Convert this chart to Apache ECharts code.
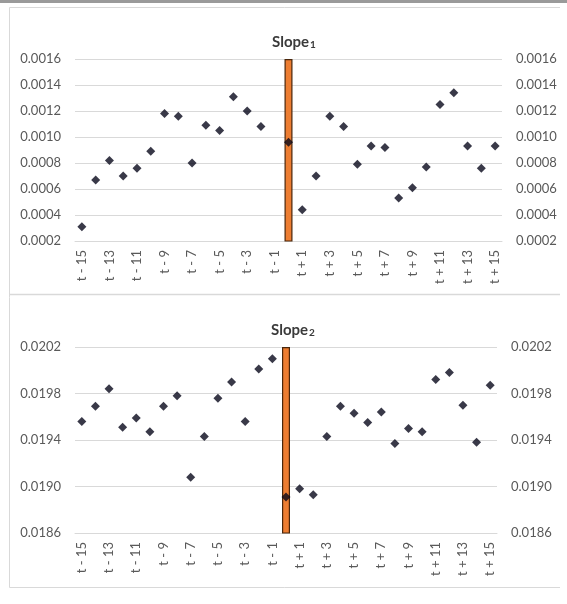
<!DOCTYPE html>
<html>
<head>
<meta charset="utf-8">
<script src="https://cdn.jsdelivr.net/npm/echarts@6/dist/echarts.min.js"></script>
<style>
  html, body { margin: 0; padding: 0; background: #ffffff; }
  #chart { width: 567px; height: 604px; }
</style>
</head>
<body>
<div id="chart"></div>
<script>
// ---- data ----
const categories = [
  't - 15','t - 14','t - 13','t - 12','t - 11','t - 10','t - 9','t - 8','t - 7','t - 6','t - 5','t - 4','t - 3','t - 2','t - 1',
  't',
  't + 1','t + 2','t + 3','t + 4','t + 5','t + 6','t + 7','t + 8','t + 9','t + 10','t + 11','t + 12','t + 13','t + 14','t + 15'
];
const slope1 = [
  0.00031, 0.00067, 0.00082, 0.00070, 0.00076, 0.00089, 0.00118, 0.00116, 0.00080, 0.00109, 0.00105, 0.00131, 0.00120, 0.00108, null,
  0.00096,
  0.00044, 0.00070, 0.00116, 0.00108, 0.00079, 0.00093, 0.00092, 0.00053, 0.00061, 0.00077, 0.00125, 0.00134, 0.00093, 0.00076, 0.00093
];
const slope2 = [
  0.01956, 0.01969, 0.01984, 0.01951, 0.01959, 0.01947, 0.01969, 0.01978, 0.01908, 0.01943, 0.01976, 0.01990, 0.01956, 0.02001, 0.02010,
  0.01891,
  0.01898, 0.01893, 0.01943, 0.01969, 0.01963, 0.01955, 0.01964, 0.01937, 0.01950, 0.01947, 0.01992, 0.01998, 0.01970, 0.01938, 0.01987
];
const eventCategory = 't';
const axis1 = { min: 0.0002, max: 0.0016, interval: 0.0002 };
const axis2 = { min: 0.0186, max: 0.0202, interval: 0.0004 };
const titles = ['Slope', 'Slope'];
const subscripts = ['1', '2'];

// ---- chart ----
const FONT = 'Lato';
const LABEL = '#595959';
const GRIDC = '#d9d9d9';
const eventBar1 = categories.map(c => c === eventCategory ? axis1.max : null);
const eventBar2 = categories.map(c => c === eventCategory ? axis2.max : null);

function xAxis(gi) {
  return {
    type: 'category', gridIndex: gi, data: categories, boundaryGap: true,
    axisTick: { show: false },
    axisLine: { lineStyle: { color: GRIDC, width: 1 } },
    axisLabel: { interval: 1, rotate: 90, margin: 9, color: LABEL, fontFamily: FONT, fontSize: 13 }
  };
}
function yAxis(gi, ax, pos) {
  return {
    type: 'value', gridIndex: gi, position: pos, min: ax.min, max: ax.max, interval: ax.interval,
    axisLine: { show: false }, axisTick: { show: false },
    splitLine: { show: pos === 'left', lineStyle: { color: GRIDC, width: 1 } },
    axisLabel: { margin: 14, color: LABEL, fontFamily: FONT, fontSize: 13, formatter: v => v.toFixed(4) }
  };
}
const barStyle = { color: '#ED7D31', borderColor: '#4a260b', borderWidth: 1.2 };
const markStyle = { color: '#08081a' };

function titleText(i) { return '{a|' + titles[i] + '}{s|' + subscripts[i] + '}'; }
const richT = {
  a: { fontFamily: FONT, fontWeight: 'bold', fontSize: 15, color: '#3a3a3a', lineHeight: 20, verticalAlign: 'bottom' },
  s: { fontFamily: FONT, fontWeight: 'bold', fontSize: 10, color: '#3a3a3a', lineHeight: 14, verticalAlign: 'bottom', padding: [6, 0, 0, 1] }
};

const chart = echarts.init(document.getElementById('chart'), null, { renderer: 'canvas' });
chart.setOption({
  animation: false,
  backgroundColor: '#ffffff',
  title: [
    { text: titleText(0), left: 289, top: 25, textAlign: 'center', textStyle: { rich: richT } },
    { text: titleText(1), left: 288, top: 313, textAlign: 'center', textStyle: { rich: richT } }
  ],
  grid: [
    { left: 75, top: 59, width: 427, height: 182 },
    { left: 75, top: 347, width: 422, height: 186 }
  ],
  xAxis: [xAxis(0), xAxis(1)],
  yAxis: [yAxis(0, axis1, 'left'), yAxis(0, axis1, 'right'), yAxis(1, axis2, 'left'), yAxis(1, axis2, 'right')],
  series: [
    { type: 'bar', xAxisIndex: 0, yAxisIndex: 0, data: eventBar1, barWidth: 8, itemStyle: barStyle, silent: true },
    { type: 'scatter', xAxisIndex: 0, yAxisIndex: 0, data: slope1, symbol: 'diamond', symbolSize: 9, itemStyle: markStyle, z: 5 },
    { type: 'bar', xAxisIndex: 1, yAxisIndex: 2, data: eventBar2, barWidth: 8, itemStyle: barStyle, silent: true },
    { type: 'scatter', xAxisIndex: 1, yAxisIndex: 2, data: slope2, symbol: 'diamond', symbolSize: 9, itemStyle: markStyle, z: 5 }
  ],
  graphic: [
    { type: 'rect', shape: { x: 558, y: 0, width: 9, height: 604 }, style: { fill: '#ffffff' }, z: 100 },
    { type: 'line', shape: { x1: 0, y1: 1.5, x2: 567, y2: 1.5 }, style: { stroke: '#9a9a9a', lineWidth: 3 }, z: 101 },
    { type: 'line', shape: { x1: 9.5, y1: 7.5, x2: 560, y2: 7.5 }, style: { stroke: GRIDC, lineWidth: 1 }, z: 101 },
    { type: 'line', shape: { x1: 9.5, y1: 7.5, x2: 9.5, y2: 587.5 }, style: { stroke: GRIDC, lineWidth: 1 }, z: 101 },
    { type: 'line', shape: { x1: 9.5, y1: 294.5, x2: 560, y2: 294.5 }, style: { stroke: GRIDC, lineWidth: 1.5 }, z: 101 },
    { type: 'line', shape: { x1: 9.5, y1: 587.5, x2: 560, y2: 587.5 }, style: { stroke: GRIDC, lineWidth: 1 }, z: 101 }
  ]
});
</script>
</body>
</html>
